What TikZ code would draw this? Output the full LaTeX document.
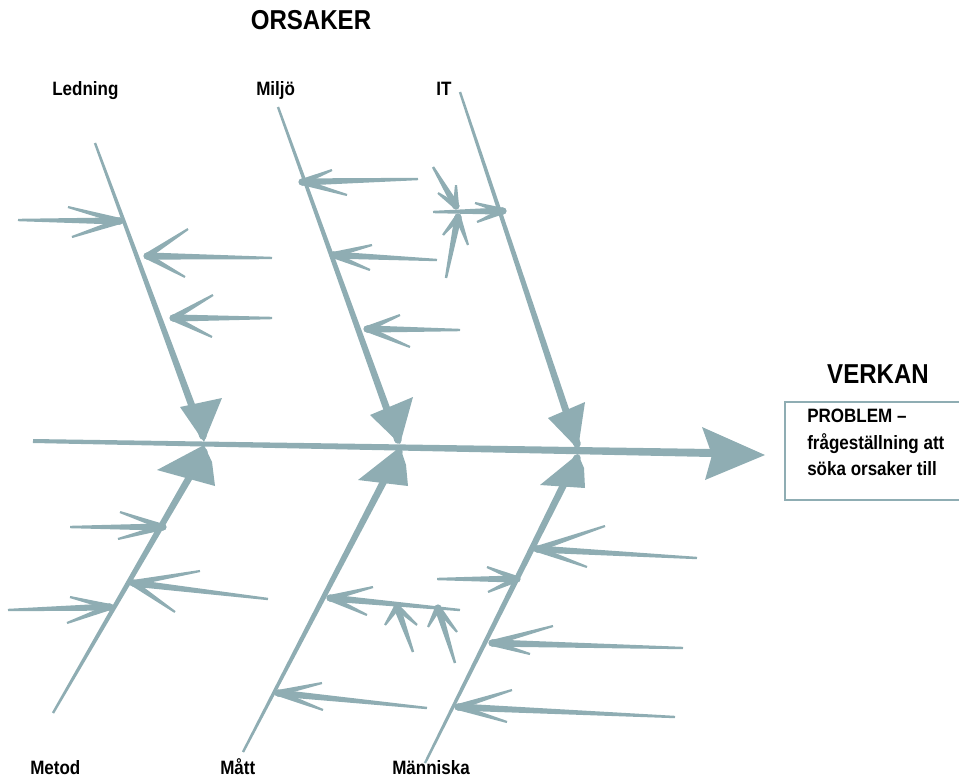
\documentclass[tikz,border=0pt]{standalone}
\usepackage{fontspec}
\setmainfont{Liberation Sans}[FakeStretch=0.88]
\usetikzlibrary{calc}
\definecolor{fishcol}{RGB}{143,173,179}

% tapered brush stroke from #1 (half width #3) to #2 (half width #4)
\newcommand\brush[4]{%
  \fill[fishcol] ($(#1)!#3!90:(#2)$) -- ($(#2)!#4!-90:(#1)$)
    -- ($(#2)!#4!90:(#1)$) -- ($(#1)!#3!-90:(#2)$) -- cycle;
  \fill[fishcol] (#2) circle[radius=#4];}
% sketched arrow: tail, tip, two barb ends
\newcommand\rib[4]{%
  \brush{#1}{#2}{0.9pt}{2.7pt}%
  \brush{#3}{#2}{0.8pt}{2.3pt}%
  \brush{#4}{#2}{0.8pt}{2.3pt}}

\tikzset{
  lab/.style={font=\bfseries\fontsize{14.5}{17}\selectfont, inner sep=0pt},
  head/.style={font=\bfseries\fontsize{20.5}{24}\selectfont, inner sep=0pt},
}

\begin{document}
\begin{tikzpicture}[x=0.75pt, y=-0.75pt]
\useasboundingbox (0,0) rectangle (959,779);
\clip (0,0) rectangle (959,779);

% bone end points and junctions on the spine
\coordinate (spineL) at (33,441);
\coordinate (spineR) at (712,453);
\coordinate (ledTop) at (95,143);
\coordinate (ledJ) at (203,436);
\coordinate (milTop) at (278,107);
\coordinate (milJ) at (398,440);
\coordinate (itTop) at (460,92);
\coordinate (itJ) at (577,444);
\coordinate (metBot) at (53,713);
\coordinate (metJ) at (204,452);
\coordinate (matBot) at (243,752);
\coordinate (matJ) at (399,452);
\coordinate (manBot) at (425,763);
\coordinate (manJ) at (577,458);

% main spine with its arrow head
\brush{spineL}{spineR}{1.5pt}{3pt}
\fill[fishcol] (702,427) -- (765,455) -- (705,480) -- (712,455) -- cycle;

% bones
\brush{ledTop}{ledJ}{0.9pt}{2.8pt}
\brush{milTop}{milJ}{0.9pt}{2.8pt}
\brush{itTop}{itJ}{0.9pt}{2.8pt}
\brush{metBot}{metJ}{0.9pt}{2.8pt}
\brush{matBot}{matJ}{0.9pt}{2.8pt}
\brush{manBot}{manJ}{0.9pt}{2.8pt}

% arrow heads where the bones meet the spine
\fill[fishcol] (180,407) -- (222,398) -- (204,442) -- cycle;
\fill[fishcol] (157,470) -- (215,486) -- (212,462) -- (204,445) -- cycle;
\fill[fishcol] (370,415) -- (413,397) -- (400,444) -- cycle;
\fill[fishcol] (358,480) -- (408,486) -- (406,465) -- (400,447) -- cycle;
\fill[fishcol] (548,418) -- (585,402) -- (578,449) -- cycle;
\fill[fishcol] (540,485) -- (585,488) -- (584,468) -- (578,454) -- cycle;

% Ledning
\rib{18,220}{120,221}{68,207}{72,237}
\rib{272,258}{147,256}{188,229}{185,277}
\rib{272,318}{173,318}{213,295}{212,337}
% Miljö
\rib{418,179}{302,182}{332,170}{347,195}
\rib{437,260}{333,255}{372,245}{370,270}
\rib{460,330}{367,329}{400,315}{410,347}
% IT
\rib{433,212}{503,211}{475,203}{477,222}
\rib{433,167}{456,206}{438,193}{456,185}
\rib{446,278}{458,217}{443,235}{468,245}
% Metod
\rib{70,527}{163,527}{120,512}{118,539}
\rib{268,599}{133,583}{200,571}{175,612}
\rib{8,610}{110,607}{70,597}{67,623}
% Mått
\rib{460,610}{330,598}{373,587}{367,615}
\rib{413,652}{397,607}{385,625}{417,625}
\rib{455,663}{438,608}{428,627}{457,632}
\rib{427,708}{278,693}{322,683}{323,710}
% Människa
\rib{697,558}{537,549}{605,526}{587,567}
\rib{437,579}{517,579}{487,567}{488,592}
\rib{683,648}{492,643}{553,626}{530,654}
\rib{675,717}{458,707}{512,690}{507,722}

% result box
\draw[fishcol, line width=0.8pt] (785,402) rectangle (965,500);
\node[lab, anchor=base west] (prob1) at (807,422) {PROBLEM –};
\node[lab, anchor=base west] (prob2) at (807,449) {frågeställning att};
\node[lab, anchor=base west] (prob3) at (807,475) {söka orsaker till};

% headings and category labels
\node[head, anchor=base] (orsaker) at (311,29) {ORSAKER};
\node[head, anchor=base] (verkan) at (878,383) {VERKAN};
\node[lab, anchor=base west] (tLed) at (52,95) {Ledning};
\node[lab, anchor=base west] (tMil) at (256,95) {Miljö};
\node[lab, anchor=base west] (tIT) at (436,95) {IT};
\node[lab, anchor=base west] (tMet) at (30,774) {Metod};
\node[lab, anchor=base west] (tMat) at (220,774) {Mått};
\node[lab, anchor=base west] (tMan) at (392,774) {Människa};
\end{tikzpicture}
\end{document}
